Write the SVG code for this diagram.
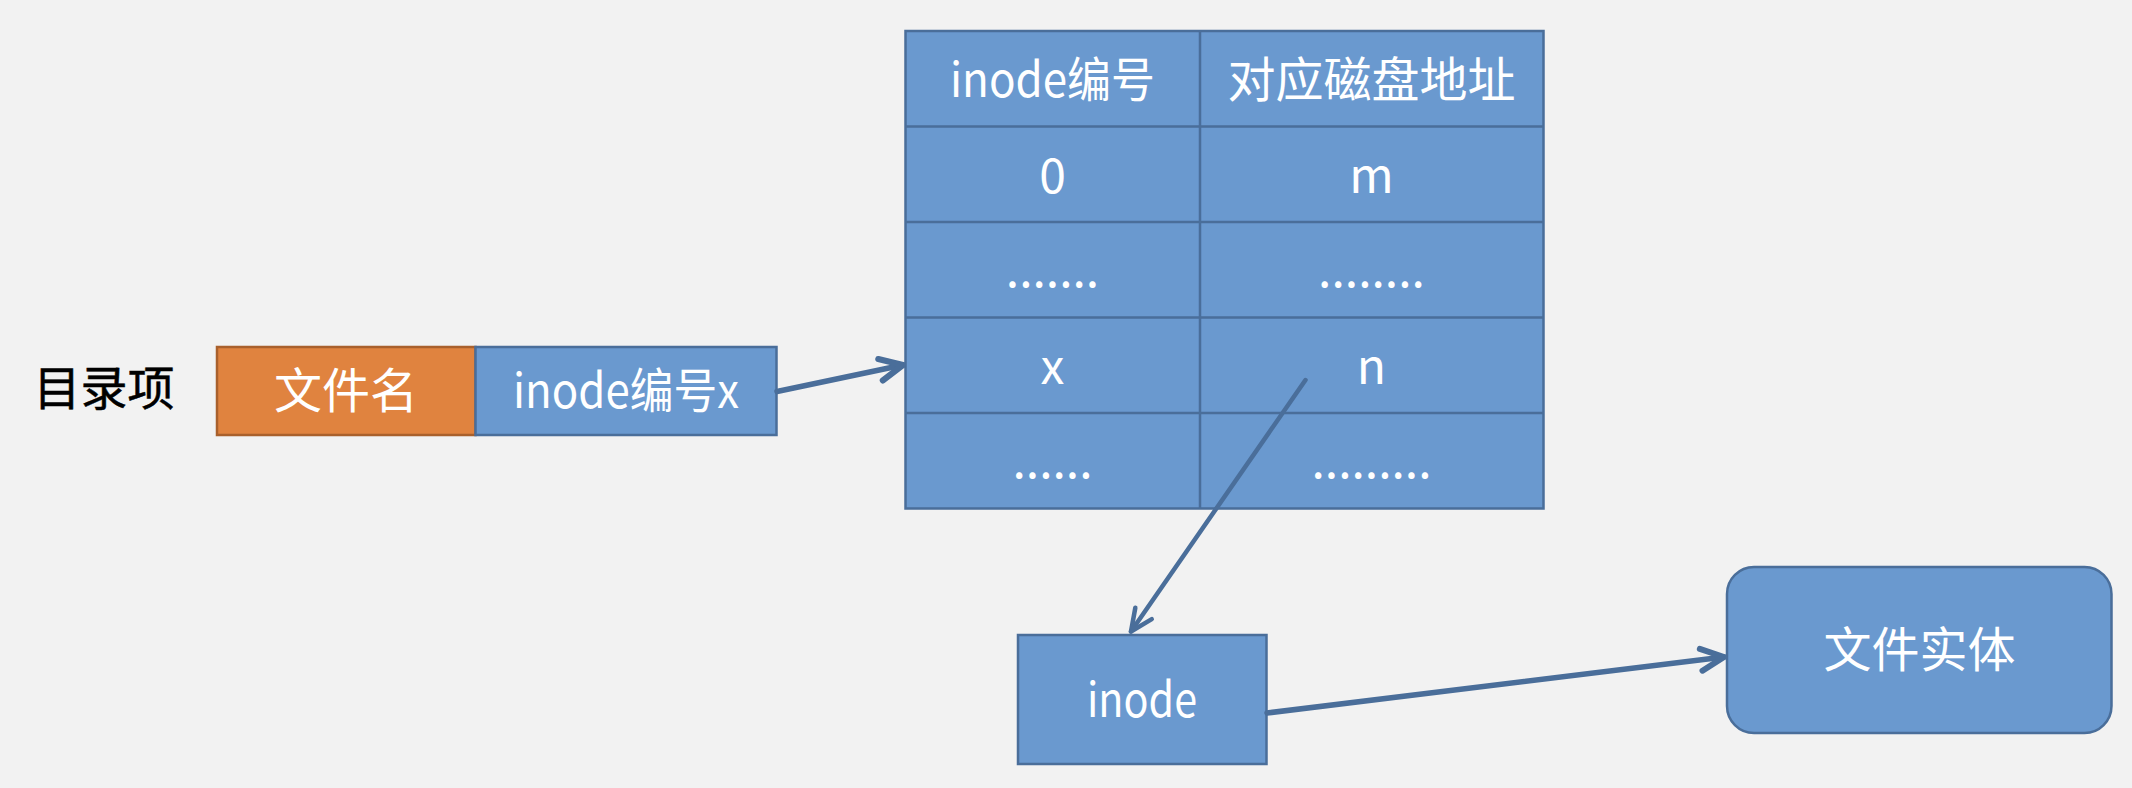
<svg xmlns="http://www.w3.org/2000/svg" width="2132" height="788" viewBox="0 0 2132 788">
<style>
.bg{fill:#f2f2f2}
.blue{fill:#6a99cf;stroke:#4a6e9a;stroke-width:2.5}
.orange{fill:#e0833f;stroke:#a9602c;stroke-width:2.5}
.grid{stroke:#4a6e9a;stroke-width:2.5;fill:none}
text{font-family:"Noto Sans CJK SC","Noto Sans",sans-serif;font-size:48px;fill:#ffffff;text-anchor:middle}
.label{fill:#000000;font-size:47px;stroke:#000000;stroke-width:0.5}
.conn{stroke:#4a6e9a;stroke-width:5.5;fill:none;stroke-linecap:round}
.conn2{stroke:#4a6e9a;stroke-width:4.5;fill:none;stroke-linecap:round}
</style>
<defs>
<marker id="arrow" markerUnits="userSpaceOnUse" viewBox="-30 -15 35 30" markerWidth="35" markerHeight="30" refX="0" refY="0" orient="auto" overflow="visible">
<path d="M-23,-11 L0,0 L-23,11" fill="none" stroke="#4a6e9a" stroke-width="6" stroke-linecap="round" stroke-linejoin="round"/>
</marker>
<marker id="arrow2" markerUnits="userSpaceOnUse" viewBox="-30 -15 35 30" markerWidth="35" markerHeight="30" refX="0" refY="0" orient="auto" overflow="visible">
<path d="M-22,-10 L0,0 L-22,10" fill="none" stroke="#4a6e9a" stroke-width="4.5" stroke-linecap="round" stroke-linejoin="round"/>
</marker>
</defs>
<rect class="bg" x="0" y="0" width="2132" height="788"/>

<g id="label-dir">
<text class="label" x="104" y="405">目录项</text>
</g>

<g id="dir-entry">
<rect class="orange" x="217" y="347" width="258.5" height="88"/>
<text x="346" y="408">文件名</text>
<rect class="blue" x="475.5" y="347" width="301" height="88"/>
<text x="626" y="408" textLength="226" lengthAdjust="spacingAndGlyphs">inode编号x</text>
</g>

<g id="inode-table">
<rect class="blue" x="905.5" y="31" width="638" height="477.5"/>
<path class="grid" d="M1200,31 V508.5 M905.5,126.5 H1543.5 M905.5,222 H1543.5 M905.5,317.5 H1543.5 M905.5,413 H1543.5"/>
<text x="1052.5" y="97" textLength="205" lengthAdjust="spacingAndGlyphs">inode编号</text>
<text x="1371.5" y="97">对应磁盘地址</text>
<text x="1052.5" y="192.5">0</text>
<text x="1371.5" y="192.5">m</text>
<text x="1052.5" y="287">.......</text>
<text x="1371.5" y="287">........</text>
<text x="1052.5" y="383.5">x</text>
<text x="1371.5" y="383.5">n</text>
<text x="1052.5" y="478">......</text>
<text x="1371.5" y="478">.........</text>
</g>

<g id="inode">
<rect class="blue" x="1018" y="635" width="248.5" height="129"/>
<text x="1142" y="717" textLength="110" lengthAdjust="spacingAndGlyphs">inode</text>
</g>

<g id="file-body">
<rect class="blue" x="1727" y="567" width="384.5" height="166" rx="27" ry="27"/>
<text x="1919.5" y="667">文件实体</text>
</g>

<g id="connectors">
<line class="conn" x1="777" y1="391.5" x2="903" y2="365" marker-end="url(#arrow)"/>
<line class="conn2" x1="1305.5" y1="380" x2="1131" y2="631.5" marker-end="url(#arrow2)"/>
<line class="conn" x1="1267" y1="713" x2="1724" y2="657" marker-end="url(#arrow)"/>
</g>
</svg>
